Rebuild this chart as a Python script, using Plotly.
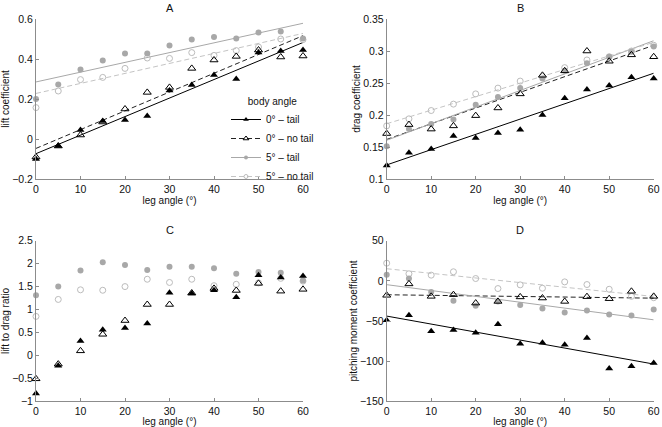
import numpy as np
import plotly.graph_objects as go

# ---------------- data ----------------
leg_angle = [0, 5, 10, 15, 20, 25, 30, 35, 40, 45, 50, 55, 60]
series_names = ["0° – tail", "0° – no tail", "5° – tail", "5° – no tail"]

# A: lift coefficient
lift_0_tail   = [-0.10, -0.035, 0.045, 0.09, 0.095, 0.115, 0.242, 0.27, 0.32, 0.30, 0.433, 0.44, 0.445]
lift_0_notail = [-0.09, -0.035, 0.02, 0.085, 0.15, 0.233, 0.258, 0.353, 0.395, 0.413, 0.445, 0.41, 0.415]
lift_5_tail   = [0.20, 0.272, 0.347, 0.392, 0.428, 0.427, 0.467, 0.497, 0.51, 0.503, 0.533, 0.537, 0.502]
lift_5_notail = [0.157, 0.24, 0.297, 0.308, 0.353, 0.405, 0.403, 0.432, 0.418, 0.442, 0.46, 0.50, 0.497]

# B: drag coefficient
drag_0_tail   = [0.121, 0.141, 0.147, 0.167, 0.164, 0.172, 0.177, 0.200, 0.226, 0.240, 0.246, 0.259, 0.257]
drag_0_notail = [0.171, 0.185, 0.178, 0.183, 0.199, 0.211, 0.233, 0.262, 0.269, 0.300, 0.284, 0.294, 0.291]
drag_5_tail   = [0.151, 0.178, 0.186, 0.193, 0.216, 0.228, 0.242, 0.257, 0.269, 0.281, 0.291, 0.299, 0.307]
drag_5_notail = [0.183, 0.194, 0.207, 0.217, 0.233, 0.242, 0.253, 0.260, 0.274, 0.286, 0.291, 0.300, 0.309]

# C: lift to drag ratio
ld_0_tail   = [-0.83, -0.226, 0.314, 0.562, 0.60, 0.693, 1.365, 1.35, 1.42, 1.27, 1.745, 1.70, 1.73]
ld_0_notail = [-0.51, -0.19, 0.10, 0.46, 0.76, 1.11, 1.11, 1.36, 1.46, 1.416, 1.57, 1.40, 1.44]
ld_5_tail   = [1.31, 1.50, 1.85, 2.03, 1.97, 1.86, 1.93, 1.93, 1.90, 1.78, 1.82, 1.80, 1.63]
ld_5_notail = [0.85, 1.22, 1.43, 1.42, 1.50, 1.66, 1.59, 1.66, 1.52, 1.55, 1.58, 1.68, 1.62]

# D: pitching moment coefficient
pm_0_tail   = [-49, -42.8, -62.9, -61.2, -64.6, -54, -78.4, -77, -79.7, -71.3, -109, -106.5, -102.3]
pm_0_notail = [-18, -3.8, -19.3, -17.2, -27.7, -25.6, -20, -21.4, -25.6, -19.7, -22.2, -13, -19.3]
pm_5_tail   = [7.5, 2.9, -13.8, -24.7, -31, -25.6, -30.2, -34.4, -39.4, -36.9, -41.9, -43.2, -35.6]
pm_5_notail = [22, 8.8, 7.1, 11.3, 2.9, -9.6, -5, -9.2, -1.3, -4.6, -10.5, -19.3, -21]

panel_titles = ["A", "B", "C", "D"]
y_titles = ["lift coefficient", "drag coefficient", "lift to drag ratio", "pitching moment coefficient"]
x_title = "leg angle (°)"

# ---------------- styles ----------------
FONT = "Liberation Sans, Arial, sans-serif"
AXC = "#8c8c8c"
TXT = "#111111"
styles = [
    dict(marker=dict(symbol="triangle-up", size=7, color="black"),
         line=dict(color="black", width=1, dash="solid")),
    dict(marker=dict(symbol="triangle-up-open", size=7, color="black", line=dict(width=1)),
         line=dict(color="#222222", width=1, dash="5px,3px")),
    dict(marker=dict(symbol="circle", size=6, color="#a8a8a8"),
         line=dict(color="#a8a8a8", width=1, dash="solid")),
    dict(marker=dict(symbol="circle-open", size=6, color="#bcbcbc", line=dict(width=1)),
         line=dict(color="#c4c4c4", width=1, dash="5px,3px")),
]

panels = [
    ([lift_0_tail, lift_0_notail, lift_5_tail, lift_5_notail], True, [-0.2, 0.6], 0.2),
    ([drag_0_tail, drag_0_notail, drag_5_tail, drag_5_notail], True, [0.1, 0.35], 0.05),
    ([ld_0_tail, ld_0_notail, ld_5_tail, ld_5_notail], False, [-1, 2.5], 0.5),
    ([pm_0_tail, pm_0_notail, pm_5_tail, pm_5_notail], True, [-150, 50], 50),
]

W, H = 662, 427
# plot-area pixel boxes (left, right, top, bottom)
boxes = [(36, 303, 19, 179), (386.7, 653.7, 19, 179), (36, 303, 240.7, 401.3), (386.7, 653.7, 240.7, 401.3)]

fig = go.Figure()
xs = np.array(leg_angle, dtype=float)
for i, (series, fit, yr, dt) in enumerate(panels):
    sfx = "" if i == 0 else str(i + 1)
    xa, ya = "x" + sfx, "y" + sfx
    if fit:
        for k, ys in enumerate(series):
            p = np.polyfit(xs, np.array(ys, dtype=float), 1)
            xl = np.array([xs.min(), xs.max()])
            fig.add_trace(go.Scatter(x=xl, y=np.polyval(p, xl), mode="lines",
                                     line=styles[k]["line"], xaxis=xa, yaxis=ya,
                                     showlegend=False, hoverinfo="skip"))
    for k in [3, 2, 1, 0]:
        fig.add_trace(go.Scatter(x=leg_angle, y=series[k], mode="markers",
                                 marker=styles[k]["marker"], xaxis=xa, yaxis=ya,
                                 showlegend=False, cliponaxis=False))
    l, r, t, b = boxes[i]
    fig.layout["xaxis" + sfx] = dict(
        domain=[l / W, r / W], anchor=ya, range=[0, 60], dtick=10, tick0=0,
        showline=True, linecolor=AXC, linewidth=1, mirror=False,
        ticks="inside", ticklen=3, tickcolor=AXC, showgrid=False, zeroline=False,
        tickfont=dict(family=FONT, size=10.5, color=TXT),
        title=dict(text=x_title, font=dict(family=FONT, size=10, color=TXT), standoff=2),
        automargin=False)
    fig.layout["yaxis" + sfx] = dict(
        domain=[1 - b / H, 1 - t / H], anchor=xa, range=yr, dtick=dt, tick0=0,
        showline=True, linecolor=AXC, linewidth=1, mirror=False,
        ticks="inside", ticklen=3, tickcolor=AXC, showgrid=False, zeroline=False,
        tickfont=dict(family=FONT, size=10.5, color=TXT),
        title=dict(text=y_titles[i], font=dict(family=FONT, size=10, color=TXT), standoff=0),
        automargin=False)
    fig.add_annotation(x=(l + r) / 2 / W, y=1 - (t - 11) / H, xref="paper", yref="paper",
                       xanchor="center", yanchor="middle",
                       text=panel_titles[i], showarrow=False,
                       font=dict(family=FONT, size=11, color=TXT))

# legend proxies (shown in panel A)
for k in range(4):
    mk = dict(styles[k]["marker"])
    mk["size"] = mk["size"] - 2
    fig.add_trace(go.Scatter(x=[None], y=[None], mode="lines+markers", name=series_names[k],
                             marker=mk, line=styles[k]["line"], showlegend=True))

fig.update_layout(
    width=W, height=H, margin=dict(l=0, r=0, t=0, b=0),
    paper_bgcolor="white", plot_bgcolor="white",
    font=dict(family=FONT, size=10, color=TXT),
    showlegend=True,
    legend=dict(x=226 / W, y=1 - 92 / H, xanchor="left", yanchor="top",
                bgcolor="rgba(0,0,0,0)", borderwidth=0,
                font=dict(family=FONT, size=10, color=TXT),
                title=dict(text="body angle", side="top center",
                           font=dict(family=FONT, size=10, color=TXT)),
                itemwidth=30, tracegroupgap=0),
)

fig.write_html("out.html", config={"displayModeBar": False},
               post_script="document.body.style.margin='0';document.body.style.overflow='hidden';")
